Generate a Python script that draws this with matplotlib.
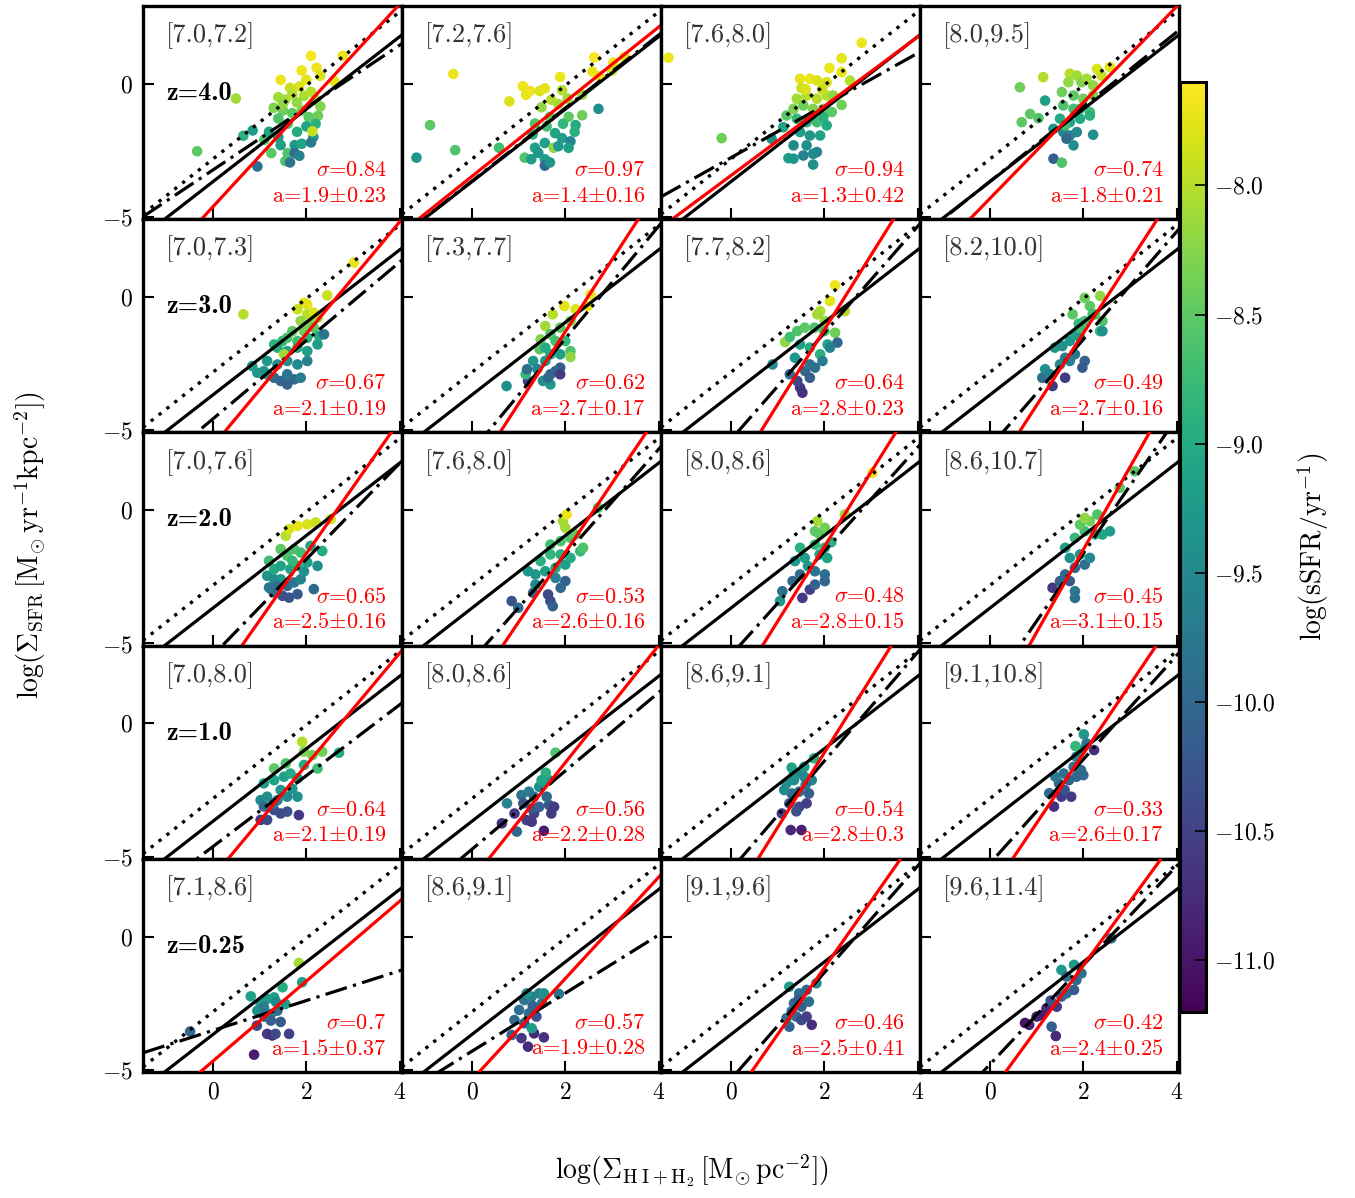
import numpy as np
import matplotlib
matplotlib.use("Agg")
import matplotlib.pyplot as plt

plt.rcParams["font.family"] = "serif"
plt.rcParams["font.serif"] = ["cmr10", "DejaVu Serif"]
plt.rcParams["mathtext.fontset"] = "cm"
plt.rcParams["axes.formatter.use_mathtext"] = True
plt.rcParams["axes.unicode_minus"] = True

# --------------------------------------------------------------------------- #
# values

REDSHIFTS = ["4.0", "3.0", "2.0", "1.0", "0.25"]

MASS_BINS = [
    ["[7.0,7.2]", "[7.2,7.6]", "[7.6,8.0]", "[8.0,9.5]"],
    ["[7.0,7.3]", "[7.3,7.7]", "[7.7,8.2]", "[8.2,10.0]"],
    ["[7.0,7.6]", "[7.6,8.0]", "[8.0,8.6]", "[8.6,10.7]"],
    ["[7.0,8.0]", "[8.0,8.6]", "[8.6,9.1]", "[9.1,10.8]"],
    ["[7.1,8.6]", "[8.6,9.1]", "[9.1,9.6]", "[9.6,11.4]"],
]

SIGMA = [
    ["0.84", "0.97", "0.94", "0.74"],
    ["0.67", "0.62", "0.64", "0.49"],
    ["0.65", "0.53", "0.48", "0.45"],
    ["0.64", "0.56", "0.54", "0.33"],
    ["0.7", "0.57", "0.46", "0.42"],
]

FIT_SLOPE = [
    [1.9, 1.4, 1.3, 1.8],
    [2.1, 2.7, 2.8, 2.7],
    [2.5, 2.6, 2.8, 3.1],
    [2.1, 2.2, 2.8, 2.6],
    [1.5, 1.9, 2.5, 2.4],
]
FIT_ERR = [
    ["0.23", "0.16", "0.42", "0.21"],
    ["0.19", "0.17", "0.23", "0.16"],
    ["0.16", "0.16", "0.15", "0.15"],
    ["0.19", "0.28", "0.3", "0.17"],
    ["0.37", "0.28", "0.41", "0.25"],
]
FIT_ZERO = [
    [-4.61, -3.47, -3.44, -4.30],
    [-5.58, -6.70, -6.83, -6.76],
    [-6.63, -6.79, -6.97, -7.68],
    [-5.76, -5.87, -6.70, -6.34],
    [-4.67, -5.37, -6.17, -5.88],
]

# dash-dot relation per panel
ALT_SLOPE = [
    [1.17, 1.37, 0.98, 1.40],
    [1.47, 2.11, 2.00, 2.02],
    [1.80, 1.98, 1.95, 2.54],
    [1.33, 1.47, 2.04, 1.95],
    [0.56, 1.09, 2.00, 1.86],
]
ALT_ZERO = [
    [-3.23, -3.65, -2.77, -3.66],
    [-4.57, -5.78, -5.35, -5.63],
    [-5.44, -5.63, -5.44, -6.70],
    [-4.62, -4.72, -5.49, -5.25],
    [-3.52, -4.30, -5.35, -4.79],
]

# reference relations common to all panels
KS_SOLID = (1.36, -3.67)
KS_DOTTED = (1.38, -2.82)

# scatter points per panel: (log Sigma_gas, log Sigma_SFR, log sSFR)
pts_4a = [(1.45, 0.15, -7.7), (1.9, 0.5, -7.7), (2.1, 1.05, -7.65), (2.22, 0.6, -7.7), (2.78, 1.05, -7.7),
          (2.6, 0.1, -7.75), (1.85, -0.1, -7.8), (2.0, 0.15, -7.75), (1.65, -0.15, -7.9), (2.3, 0.3, -7.8),
          (1.4, -0.5, -8.1), (1.55, -0.6, -8.1), (1.7, -0.4, -8.0), (1.95, -0.45, -8.05), (2.1, -0.3, -8.0),
          (2.2, -0.6, -8.1), (0.49, -0.55, -8.1), (1.3, -0.9, -8.3), (1.5, -1.0, -8.4), (1.7, -1.1, -8.5),
          (1.9, -1.0, -8.3), (2.05, -1.25, -8.5), (2.25, -1.2, -8.4), (2.3, -0.85, -8.3), (1.6, -1.5, -8.6),
          (-0.34, -2.53, -8.5), (1.1, -2.1, -8.6), (1.25, -2.6, -8.5), (1.6, -2.6, -8.6), (0.65, -1.95, -8.9),
          (0.85, -1.75, -9.2), (1.2, -1.8, -9.1), (1.4, -2.0, -9.2), (1.8, -1.8, -9.0), (2.0, -1.6, -9.1),
          (2.2, -1.5, -8.9), (2.15, -2.0, -9.3), (1.45, -2.3, -9.2), (1.75, -2.3, -9.3), (1.9, -2.25, -9.1),
          (1.55, -2.9, -8.6), (0.95, -3.1, -9.9), (1.65, -2.95, -9.8), (1.75, -2.6, -9.9), (2.1, -2.2, -9.7),
          (1.85, -2.7, -9.6), (2.13, -1.78, -7.9), (1.5, -0.75, -8.2), (1.8, -0.7, -8.2), (1.4, -1.3, -8.6)]
pts_4b = [(-0.40, 0.37, -7.7), (-0.9, -1.55, -8.5), (-1.19, -2.77, -9.3), (-0.36, -2.49, -8.6), (0.58, -2.4, -8.7),
          (0.8, -0.66, -7.8), (1.16, -0.41, -7.75), (1.24, -0.27, -7.7), (1.45, -0.27, -7.8), (1.56, -0.17, -7.75),
          (1.09, -0.09, -7.7), (1.89, 0.26, -7.7), (1.93, -0.24, -8.0), (2.62, 0.99, -7.65), (3.03, 0.8, -7.7),
          (3.27, 1.01, -7.75), (2.58, 0.46, -7.75), (2.73, 0.28, -7.7), (3.0, 0.49, -7.8), (2.36, -0.41, -8.1),
          (2.71, -0.94, -9.4), (2.36, -1.18, -8.4), (1.35, -1.49, -8.6), (1.49, -0.88, -8.2), (1.67, -1.24, -8.5),
          (1.85, -0.76, -8.1), (2.07, -1.24, -8.5), (2.22, -1.55, -9.0), (1.78, -1.85, -9.1), (1.93, -2.04, -9.2),
          (1.56, -2.22, -9.2), (1.35, -2.4, -9.1), (1.13, -2.77, -8.6), (1.27, -2.83, -9.2), (1.42, -2.59, -9.3),
          (1.56, -2.83, -9.2), (1.75, -2.4, -8.2), (2.11, -2.16, -9.6), (1.85, -2.34, -9.3), (2.07, -2.4, -9.2),
          (1.56, -3.07, -10.0), (1.67, -2.95, -9.3), (2.2, -1.8, -8.9), (1.6, -1.6, -8.7), (1.95, -1.5, -8.8),
          (1.3, -1.9, -8.9), (1.7, -0.6, -8.0), (2.05, -0.55, -8.1)]
pts_4c = [(-1.34, 0.98, -7.7), (-0.2, -2.04, -8.4), (2.8, 1.54, -7.7), (2.37, 0.96, -7.75), (2.11, 0.59, -7.7),
          (2.37, 0.44, -7.75), (2.55, 0.12, -8.0), (1.48, 0.19, -7.75), (1.69, 0.19, -7.7), (1.84, 0.13, -7.8),
          (1.51, -0.16, -7.9), (1.62, -0.44, -8.0), (2.05, 0.06, -7.8), (1.41, -0.56, -8.1), (1.84, -0.56, -8.0),
          (2.05, -0.44, -8.0), (2.19, -0.44, -8.2), (1.19, -1.19, -8.5), (1.34, -0.94, -8.3), (1.55, -0.81, -8.4),
          (1.76, -0.94, -8.3), (1.98, -0.94, -8.4), (2.16, -1.06, -8.5), (2.37, -0.79, -8.4), (0.87, -2.06, -9.4),
          (1.12, -1.63, -9.1), (1.41, -1.31, -8.8), (1.62, -1.44, -8.9), (1.84, -1.44, -8.7), (1.98, -1.25, -8.9),
          (1.48, -1.81, -9.2), (1.69, -1.94, -9.3), (1.91, -1.94, -9.1), (2.05, -1.56, -9.0), (1.34, -2.31, -9.5),
          (1.62, -2.31, -9.4), (1.84, -2.56, -9.6), (1.23, -2.79, -9.2), (1.34, -2.81, -9.3), (1.55, -2.69, -9.6),
          (1.76, -2.63, -9.5), (1.76, -3.03, -9.4), (1.6, -0.2, -7.8), (1.95, -0.2, -7.9)]
pts_4d = [(0.64, -0.13, -8.4), (1.14, 0.25, -8.0), (0.68, -1.44, -8.5), (0.86, -1.13, -8.5), (1.04, -1.29, -8.6),
          (1.18, -0.63, -9.2), (1.36, -1.69, -9.3), (1.71, 0.38, -8.0), (1.86, 0.31, -8.1), (2.29, 0.56, -7.8),
          (2.57, 0.63, -7.75), (2.39, 0.31, -7.9), (1.68, 0.06, -8.2), (1.96, 0.06, -8.3), (2.07, 0.19, -8.1),
          (2.21, -0.06, -8.2), (1.54, -0.31, -8.4), (1.79, -0.44, -8.5), (2.0, -0.56, -8.4), (2.21, -0.44, -8.3),
          (1.57, -0.81, -8.6), (1.79, -0.94, -8.7), (1.93, -0.94, -8.8), (2.14, -1.06, -8.7), (1.5, -1.31, -9.0),
          (1.71, -1.44, -9.1), (1.93, -1.31, -9.0), (2.14, -1.19, -8.9), (1.57, -1.81, -9.6), (1.71, -1.94, -9.6),
          (1.86, -1.81, -9.5), (1.64, -2.06, -10.0), (1.79, -2.31, -9.4), (1.36, -2.81, -10.1), (1.54, -2.96, -8.6),
          (2.21, -1.91, -9.4), (1.61, -1.56, -8.7)]

pts_3a = [(0.65, -0.65, -8.0), (3.02, 1.29, -7.7), (1.95, -0.21, -7.7), (2.02, -0.28, -7.75), (2.45, 0.06, -7.9),
          (1.81, -0.46, -7.9), (2.02, -0.65, -8.0), (2.16, -0.59, -7.8), (1.88, -0.9, -8.2), (2.09, -1.03, -8.3),
          (2.24, -0.78, -8.1), (1.7, -1.28, -8.5), (1.95, -1.28, -8.4), (2.16, -1.15, -8.5), (1.49, -1.65, -8.8),
          (1.59, -1.53, -8.6), (1.81, -1.65, -8.7), (2.02, -1.53, -8.9), (2.27, -1.46, -9.0), (2.38, -1.4, -9.8),
          (2.24, -1.78, -9.2), (1.31, -1.78, -8.9), (1.38, -1.9, -9.0), (1.59, -2.03, -9.1), (1.81, -1.9, -9.0),
          (2.02, -2.03, -9.2), (1.52, -2.15, -8.1), (0.84, -2.59, -9.2), (0.95, -2.84, -9.3), (1.09, -2.78, -9.3),
          (1.16, -2.4, -9.3), (1.38, -2.53, -9.4), (1.59, -2.4, -9.4), (1.81, -2.53, -9.5), (2.02, -2.4, -9.6),
          (1.31, -3.03, -9.9), (1.45, -3.15, -10.0), (1.59, -2.9, -9.8), (1.74, -3.09, -10.0), (1.88, -3.03, -9.7),
          (1.59, -3.28, -10.1), (1.16, -2.9, -9.4)]
pts_3b = [(0.74, -3.34, -9.4), (1.2, -3.15, -10.6), (1.15, -2.9, -8.8), (1.18, -2.71, -9.9), (1.31, -2.4, -9.3),
          (1.45, -1.96, -8.5), (1.47, -1.59, -8.3), (1.57, -1.09, -8.1), (1.73, -0.65, -8.0), (1.98, -0.34, -7.75),
          (2.22, -0.46, -7.8), (2.54, 0.1, -7.7), (2.48, -0.34, -7.75), (2.11, -0.9, -8.3), (1.89, -1.15, -8.5),
          (1.68, -1.4, -8.6), (1.79, -1.65, -8.7), (2.0, -1.65, -8.8), (2.11, -2.03, -8.6), (2.11, -2.25, -8.2),
          (1.89, -2.65, -10.2), (1.79, -2.78, -10.0), (1.68, -2.9, -10.1), (1.57, -2.4, -9.3), (1.68, -2.15, -9.1),
          (1.89, -2.15, -9.2), (1.57, -1.9, -9.0), (1.52, -3.15, -9.4), (1.68, -3.28, -9.3), (1.89, -2.9, -10.6),
          (1.63, -3.03, -10.0), (1.4, -2.7, -9.6)]
pts_3c = [(0.89, -2.53, -9.5), (1.16, -1.69, -8.2), (1.37, -2.28, -9.3), (1.26, -2.9, -9.9), (1.48, -3.4, -10.6),
          (1.53, -3.59, -10.7), (1.42, -3.15, -10.4), (1.59, -2.78, -10.0), (1.69, -2.53, -9.8), (1.48, -1.78, -9.2),
          (1.69, -1.9, -9.0), (1.91, -2.15, -8.9), (2.07, -1.78, -9.1), (1.42, -1.28, -8.6), (1.58, -1.15, -8.5),
          (1.79, -1.15, -8.6), (2.0, -1.28, -8.7), (2.23, -1.34, -8.4), (1.91, -0.53, -8.0), (2.12, -0.15, -7.75),
          (2.23, 0.44, -7.7), (2.44, -0.53, -8.0), (1.85, -0.65, -8.1), (2.01, -0.9, -8.2), (2.28, -1.71, -10.0),
          (2.12, -1.9, -9.6), (1.96, -2.4, -9.7), (1.8, -2.65, -9.9), (1.69, -3.03, -10.1), (1.26, -1.5, -8.7)]
pts_3d = [(1.18, -2.71, -9.4), (1.12, -3.03, -9.9), (1.29, -2.9, -9.6), (1.61, -3.03, -10.6), (1.34, -3.34, -10.6),
          (1.39, -1.9, -9.3), (1.55, -1.84, -9.4), (1.71, -1.65, -9.3), (1.82, -1.4, -9.1), (1.93, -1.53, -9.3),
          (1.77, -0.65, -8.5), (2.03, -0.03, -8.4), (2.14, -0.34, -8.5), (2.36, 0.04, -8.2), (2.25, -0.65, -8.6),
          (2.41, -0.9, -8.6), (2.36, -1.28, -8.8), (2.03, -0.9, -8.6), (1.93, -1.15, -8.7), (2.03, -2.4, -10.1),
          (1.98, -2.65, -10.2), (1.82, -2.15, -9.8), (1.71, -2.4, -9.6), (1.61, -2.28, -9.7), (1.5, -2.53, -9.5),
          (2.41, -1.28, -9.4), (2.2, -0.65, -8.7), (1.9, -1.0, -8.8)]

pts_2a = [(1.56, -0.96, -8.0), (1.63, -0.71, -7.8), (1.81, -0.59, -7.75), (2.02, -0.53, -7.8), (2.2, -0.46, -7.9),
          (2.52, -0.34, -7.85), (1.45, -1.46, -8.5), (1.2, -1.9, -8.7), (1.59, -1.71, -8.6), (1.74, -1.46, -8.6),
          (1.88, -1.59, -8.7), (2.09, -1.34, -9.1), (2.34, -1.53, -9.0), (2.02, -1.96, -9.2), (2.24, -2.09, -9.4),
          (1.31, -2.21, -9.0), (1.45, -2.09, -9.1), (1.66, -2.21, -9.1), (1.81, -2.09, -9.0), (1.16, -2.46, -9.3),
          (1.31, -2.59, -9.4), (1.45, -2.59, -9.3), (1.24, -2.96, -9.9), (1.38, -2.84, -9.9), (1.59, -2.84, -10.0),
          (1.74, -2.71, -9.8), (1.49, -3.21, -10.3), (1.63, -3.28, -10.3), (1.81, -3.15, -10.2), (1.31, -3.09, -10.0),
          (1.2, -2.9, -9.8), (2.16, -2.96, -10.0), (1.88, -2.59, -9.6), (1.95, -2.3, -9.4), (1.7, -1.9, -8.8)]
pts_2b = [(0.85, -3.41, -10.3), (0.99, -3.66, -10.0), (1.31, -3.1, -10.0), (1.36, -2.79, -9.5), (1.63, -3.16, -10.4),
          (1.68, -3.41, -10.4), (1.73, -3.6, -10.1), (1.36, -2.41, -9.3), (1.57, -2.29, -9.2), (1.79, -2.16, -9.1),
          (2.0, -2.04, -9.2), (1.2, -2.29, -9.3), (1.47, -1.91, -8.9), (1.68, -1.66, -8.8), (1.9, -1.66, -8.9),
          (2.11, -1.79, -9.0), (2.32, -1.54, -8.8), (1.68, -1.29, -8.7), (1.9, -1.16, -8.6), (2.11, -1.04, -8.6),
          (2.0, -0.66, -8.1), (1.95, -0.41, -8.1), (2.03, -0.16, -7.7), (2.7, 0.09, -8.5), (2.22, -0.91, -8.5),
          (2.38, -1.41, -8.6), (2.0, -2.66, -10.1), (1.9, -2.91, -10.0), (1.79, -2.54, -9.6)]
pts_2c = [(1.1, -3.04, -9.9), (1.05, -3.41, -9.3), (1.53, -3.29, -10.6), (1.69, -2.98, -10.5), (1.32, -2.66, -10.0),
          (1.48, -2.41, -9.9), (1.8, -2.29, -9.8), (2.01, -2.41, -9.9), (1.37, -1.91, -9.3), (1.58, -1.79, -9.2),
          (1.9, -1.66, -9.2), (2.06, -1.79, -9.1), (1.48, -1.41, -8.9), (1.8, -1.29, -8.8), (2.01, -1.41, -8.9),
          (1.9, -0.91, -8.5), (2.01, -0.66, -8.4), (1.8, -0.79, -8.5), (1.85, -0.41, -8.1), (2.44, -0.16, -8.1),
          (3.03, 1.4, -7.7), (2.01, -2.66, -10.0), (1.8, -2.79, -10.1), (1.65, -2.1, -9.3), (2.15, -1.2, -8.9)]
pts_2d = [(1.34, -2.91, -10.6), (1.5, -2.66, -10.1), (1.82, -3.04, -9.8), (1.82, -3.29, -9.9), (1.61, -2.41, -10.0),
          (1.82, -2.16, -10.0), (2.03, -2.04, -9.9), (1.61, -1.41, -9.2), (1.71, -1.79, -9.4), (1.93, -1.66, -9.3),
          (2.14, -1.79, -9.5), (1.82, -1.04, -8.8), (2.03, -0.79, -8.7), (2.25, -0.91, -8.9), (2.41, -0.91, -9.1),
          (1.93, -0.54, -8.5), (2.14, -0.41, -8.4), (2.03, -0.29, -8.2), (2.3, -0.16, -8.6), (3.1, 1.46, -8.5),
          (2.78, 0.84, -8.5), (2.57, -0.79, -9.2), (1.71, -2.66, -10.2)]

pts_1a = [(1.91, -0.69, -8.0), (1.95, -1.06, -8.3), (2.13, -1.19, -8.4), (2.34, -1.06, -8.4), (2.7, -1.1, -9.0),
          (1.56, -1.5, -8.6), (1.31, -1.69, -8.5), (2.24, -1.69, -8.7), (1.95, -1.56, -9.0), (1.09, -2.25, -9.2),
          (1.31, -2.13, -9.1), (1.52, -2.0, -9.2), (1.66, -1.88, -9.0), (1.81, -2.06, -9.2), (1.02, -2.88, -9.5),
          (1.16, -2.75, -9.4), (1.38, -2.88, -9.6), (1.59, -2.75, -9.5), (1.81, -2.75, -9.4), (1.09, -3.12, -10.0),
          (1.31, -3.25, -10.3), (1.45, -3.38, -10.4), (1.59, -3.31, -10.3), (1.84, -3.44, -10.6), (1.02, -3.62, -10.6),
          (1.16, -3.62, -10.4), (1.3, -3.0, -9.8), (1.45, -2.5, -9.3), (1.7, -2.45, -9.3)]
pts_1b = [(0.64, -3.75, -10.7), (0.96, -4.06, -10.0), (0.91, -3.38, -10.6), (1.17, -3.63, -10.5), (1.28, -3.69, -10.6),
          (1.33, -3.38, -10.5), (0.75, -3.0, -9.6), (1.06, -2.69, -9.8), (1.22, -2.56, -9.7), (1.33, -2.75, -9.9),
          (1.44, -2.38, -9.4), (1.54, -2.25, -9.3), (1.65, -2.13, -9.3), (1.28, -3.19, -10.2), (1.44, -3.13, -10.1),
          (1.65, -3.06, -10.2), (1.76, -3.13, -10.6), (1.70, -3.38, -10.6), (1.6, -2.75, -10.0), (1.58, -1.85, -8.9),
          (1.79, -1.1, -8.6), (1.49, -2.13, -9.1), (1.54, -4.03, -10.9), (1.1, -3.0, -10.3)]
pts_1c = [(1.28, -4.0, -10.8), (1.51, -4.0, -10.9), (1.09, -3.38, -10.6), (1.25, -3.0, -10.2), (1.46, -3.13, -10.4),
          (1.62, -3.0, -10.5), (1.3, -2.63, -10.0), (1.46, -2.56, -9.9), (1.67, -2.63, -10.1), (1.19, -2.25, -9.4),
          (1.35, -2.13, -9.4), (1.57, -2.0, -9.5), (1.73, -2.13, -9.6), (1.35, -1.88, -9.3), (1.51, -1.88, -9.5),
          (1.3, -1.66, -9.1), (1.78, -1.31, -8.9), (1.57, -1.63, -9.3), (1.14, -2.5, -9.5), (1.4, -3.3, -10.3),
          (1.6, -2.3, -9.8)]
pts_1d = [(1.37, -3.12, -10.7), (1.27, -2.62, -10.0), (1.53, -2.75, -10.6), (1.74, -2.75, -10.6), (1.48, -2.25, -10.1),
          (1.69, -2.13, -10.1), (1.85, -2.0, -10.0), (1.58, -1.88, -9.9), (1.79, -1.63, -9.8), (1.95, -1.75, -9.9),
          (2.0, -1.94, -10.0), (1.85, -1.25, -9.6), (1.95, -1.0, -9.5), (1.83, -0.85, -8.8), (2.01, -0.41, -9.3),
          (2.23, -1.0, -10.7), (2.07, -0.75, -9.8), (1.4, -2.0, -9.7), (1.6, -2.5, -10.3)]

pts_0a = [(-0.49, -3.56, -10.0), (0.88, -4.43, -10.9), (1.84, -0.99, -8.1), (1.91, -1.71, -9.2), (1.49, -1.9, -9.0),
          (0.81, -2.24, -9.2), (1.02, -2.53, -9.3), (1.16, -2.34, -9.3), (1.31, -2.28, -9.2), (0.95, -2.78, -9.4),
          (1.09, -2.65, -9.7), (1.24, -2.9, -9.8), (1.38, -2.78, -9.9), (1.55, -2.53, -9.2), (0.94, -3.34, -10.4),
          (1.16, -3.65, -10.6), (1.27, -3.71, -10.7), (1.34, -3.65, -10.4), (1.63, -3.65, -10.5), (1.24, -3.15, -10.1),
          (1.45, -3.2, -10.2), (1.1, -3.0, -10.0), (1.35, -2.45, -9.5)]
pts_0b = [(1.2, -4.13, -10.8), (1.54, -3.78, -10.7), (1.06, -3.81, -10.6), (1.33, -3.63, -10.8), (0.85, -3.69, -10.1),
          (0.91, -3.13, -10.0), (1.12, -3.25, -10.2), (1.01, -2.75, -9.9), (1.22, -2.88, -10.0), (1.38, -3.0, -10.3),
          (1.12, -2.38, -9.8), (1.28, -2.25, -9.6), (1.44, -2.13, -9.6), (1.17, -2.13, -9.3), (1.54, -2.13, -9.4),
          (1.86, -2.15, -9.8), (1.28, -3.44, -9.2), (1.5, -2.5, -9.8), (1.3, -2.6, -10.1)]
pts_0c = [(1.25, -1.88, -9.2), (1.46, -2.13, -9.9), (1.62, -2.0, -10.0), (1.67, -2.44, -9.9), (1.35, -2.5, -10.0),
          (1.51, -2.63, -10.1), (1.19, -3.06, -9.9), (1.4, -3.0, -10.0), (1.51, -3.13, -10.4), (1.62, -3.0, -10.5),
          (1.73, -3.31, -10.7), (1.25, -3.38, -10.1), (1.83, -1.75, -9.5), (1.45, -2.35, -10.2), (1.3, -2.8, -9.9)]
pts_0d = [(0.84, -3.31, -10.9), (1.0, -3.0, -10.9), (1.21, -2.69, -10.8), (1.32, -3.38, -10.1), (1.41, -3.73, -10.8),
          (1.43, -2.63, -10.6), (1.53, -2.25, -10.1), (1.64, -2.13, -10.0), (1.53, -1.25, -9.3), (1.8, -1.06, -9.3),
          (1.64, -1.5, -9.9), (1.85, -1.63, -10.0), (1.96, -1.38, -9.9), (1.8, -2.0, -10.2), (2.6, -0.06, -9.9),
          (0.75, -3.24, -11.0), (1.1, -2.95, -10.9), (1.3, -2.4, -10.3)]

POINTS = [
    [pts_4a, pts_4b, pts_4c, pts_4d],
    [pts_3a, pts_3b, pts_3c, pts_3d],
    [pts_2a, pts_2b, pts_2c, pts_2d],
    [pts_1a, pts_1b, pts_1c, pts_1d],
    [pts_0a, pts_0b, pts_0c, pts_0d],
]

# --------------------------------------------------------------------------- #

XLIM = (-1.5, 4.05)
YLIM = (-5.08, 2.92)
CMAP = "viridis"
VMIN, VMAX = -11.2, -7.6
W_PX, H_PX = 1355, 1198
LEFT_PX, TOP_PX, COL_PX, ROW_PX = 143, 6, 259, 213.2

fig = plt.figure(figsize=(W_PX / 100, H_PX / 100), dpi=100)
xs = np.array(XLIM)
sc = None
for r in range(5):
    for c in range(4):
        ax = fig.add_axes([(LEFT_PX + c * COL_PX) / W_PX,
                           1 - (TOP_PX + (r + 1) * ROW_PX) / H_PX,
                           COL_PX / W_PX, ROW_PX / H_PX])
        pts = np.array(POINTS[r][c])
        sc = ax.scatter(pts[:, 0], pts[:, 1], c=pts[:, 2], cmap=CMAP, vmin=VMIN, vmax=VMAX,
                        s=58, edgecolors="none", zorder=2)
        ax.plot(xs, KS_DOTTED[0] * xs + KS_DOTTED[1], color="k", lw=2.4,
                linestyle=(0, (1, 2)), zorder=3)
        ax.plot(xs, KS_SOLID[0] * xs + KS_SOLID[1], color="k", lw=2.3, zorder=3)
        ax.plot(xs, ALT_SLOPE[r][c] * xs + ALT_ZERO[r][c], color="k", lw=2.3,
                linestyle=(0, (7, 2, 1, 2)), zorder=3)
        ax.plot(xs, FIT_SLOPE[r][c] * xs + FIT_ZERO[r][c], color="#ff0000", lw=2.3, zorder=4)

        ax.set_xlim(*XLIM)
        ax.set_ylim(*YLIM)
        ax.set_xticks([0, 2, 4])
        ax.set_yticks([-5, 0])
        ax.tick_params(direction="in", length=8, width=1.5, labelsize=17, pad=7)
        for sp in ax.spines.values():
            sp.set_linewidth(2.4)
        if c > 0:
            ax.tick_params(labelleft=False)
        if r < 4:
            ax.tick_params(labelbottom=False)

        ax.text(0.09, 0.86, MASS_BINS[r][c], transform=ax.transAxes, fontsize=19,
                color="0.2", ha="left", va="center")
        ax.text(0.94, 0.23, r"$\sigma$=" + SIGMA[r][c], transform=ax.transAxes,
                fontsize=16, color="#ff0000", ha="right", va="center")
        ax.text(0.94, 0.11, "a=%.1f$\\pm$%s" % (FIT_SLOPE[r][c], FIT_ERR[r][c]),
                transform=ax.transAxes, fontsize=16, color="#ff0000", ha="right", va="center")
        if c == 0:
            ax.text(0.09, 0.59, "z=" + REDSHIFTS[r], transform=ax.transAxes,
                    fontsize=19, family=["cmb10", "DejaVu Serif"], fontweight="bold",
                    color="k", ha="left", va="center")

cax = fig.add_axes([1180 / W_PX, 1 - 1012 / H_PX, 26 / W_PX, 930 / H_PX])
cbar = fig.colorbar(sc, cax=cax, ticks=[-8.0, -8.5, -9.0, -9.5, -10.0, -10.5, -11.0])
cbar.ax.tick_params(direction="in", length=8, width=1.2, labelsize=17, pad=6)
cbar.outline.set_linewidth(2.2)
cbar.set_label(r"$\log(\mathrm{sSFR/yr^{-1}})$", fontsize=20, labelpad=14)

fig.text(0.022, 0.545, r"$\log(\Sigma_{\rm SFR}\,[\mathrm{M_{\odot}\,yr^{-1}kpc^{-2}}])$",
         rotation=90, ha="center", va="center", fontsize=20)
fig.text(0.511, 0.023, r"$\log(\Sigma_{\rm H\;I+H_2}\,[\mathrm{M_{\odot}\,pc^{-2}}])$",
         ha="center", va="center", fontsize=20)

fig.savefig("out.png", dpi=100)
